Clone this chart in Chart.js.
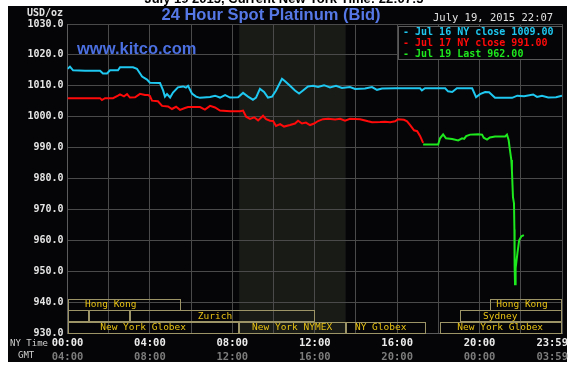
<!DOCTYPE html>
<html>
<head>
<meta charset="utf-8">
<script src="https://cdn.jsdelivr.net/npm/chart.js@4"></script>
<style>
  html, body { margin: 0; padding: 0; background: #fff; }
  canvas { display: block; }
</style>
</head>
<body>
<canvas id="c" width="579" height="367"></canvas>
<script>
// hours in New York time (0 = 00:00), prices in USD/oz
const jul16Hours = [0,0.12,0.27,0.85,1.58,1.72,1.92,2.06,2.45,2.55,3.18,3.37,3.62,3.86,4.0,4.49,4.64,4.73,4.83,4.98,5.12,5.36,5.61,5.75,5.85,6.04,6.24,6.43,6.92,7.16,7.4,7.65,7.89,8.28,8.52,8.76,9.0,9.15,9.34,9.54,9.73,9.93,10.12,10.41,10.56,10.8,11.04,11.24,11.43,11.67,11.92,12.16,12.45,12.74,13.03,13.32,13.71,13.96,14.44,14.78,15.02,15.27,15.9,16.63,17.11,17.2,17.35,18.33,18.47,18.67,18.9,19.64,19.83,20.02,20.27,20.46,20.75,21.58,21.83,22.16,22.6,22.79,23.03,23.33,23.71,24.0];
const jul16Prices = [1015.5,1016.2,1015,1014.9,1014.9,1014.0,1014.0,1015,1015,1016,1016,1015.5,1013,1012,1011,1010.9,1008.5,1006.5,1007.3,1006.2,1007.8,1009.5,1009.8,1009.4,1010,1007.5,1006.5,1006.1,1006.4,1006.8,1006.2,1007,1006.2,1006.3,1007.7,1006.5,1005.5,1006.2,1009,1008,1006.2,1006.5,1008.5,1012.3,1011.5,1010,1008.5,1007.5,1008.5,1009.8,1010,1009.6,1010.2,1009.5,1010,1009.3,1009.6,1009,1009.1,1009.6,1008.7,1009.1,1009.2,1009.2,1009.2,1008.5,1009.2,1009.2,1008.2,1008,1009.2,1009.2,1006.3,1007.3,1008,1007.9,1006.1,1006.1,1006.8,1006.6,1007.2,1006.4,1006.8,1006.2,1006.3,1006.8];

const jul17Hours = [0,1.58,1.67,1.82,2.21,2.45,2.55,2.74,2.89,3.03,3.28,3.52,3.76,3.91,4.0,4.1,4.39,4.59,4.88,5.07,5.27,5.46,5.7,5.85,6.43,6.67,6.92,7.16,7.4,7.89,8.37,8.52,8.67,8.86,9.06,9.25,9.49,9.64,9.83,9.98,10.12,10.32,10.51,10.8,11.04,11.19,11.38,11.57,11.77,11.97,12.16,12.4,12.65,12.99,13.23,13.47,13.71,14.2,14.59,14.78,15.17,15.41,15.66,15.9,16.04,16.33,16.48,16.63,16.82,16.97,17.11,17.26];
const jul17Prices = [1006,1006,1005.4,1006,1006,1006.8,1007.2,1006.6,1007.3,1006.2,1006.3,1007.4,1007,1007,1006.7,1005.2,1005,1003.5,1003.3,1002.5,1003.2,1002.2,1002.8,1003.1,1003.1,1002.3,1003.5,1003,1002,1001.8,1001.8,1002,1000,999.3,999.8,998.8,1000.3,999.2,998.7,998.6,997,997.6,996.8,997.3,997.8,998.7,997.8,998.1,997.3,997.8,998.6,999.2,999.3,999.1,999.3,998.7,999.3,999.2,998.5,998.2,998.3,998.4,998.2,998.5,999.2,999,998.5,997.3,995.6,995.3,993.8,991.5];

const jul19Hours = [17.26,17.99,18.08,18.23,18.37,18.67,18.96,19.15,19.25,19.35,19.54,19.93,20.12,20.2,20.36,20.5,20.75,20.99,21.24,21.33,21.41,21.46,21.54,21.57,21.62,21.67,21.69,21.7,21.72,21.75,21.84,21.92,22.03,22.15];
const jul19Prices = [991,991,993,994.3,993,992.8,992.3,993,992.8,993.7,994.2,994.3,994.2,993.2,992.6,993.3,993.6,993.6,993.6,994.2,992.5,989.8,986,982.5,974,972,963.5,951.7,945.8,951,956,960,961.3,961.7];

const seriesLabels = ['Jul 16 NY close 1009.00', 'Jul 17 NY close 991.00', 'Jul 19 Last 962.00'];

const gridHours = [0,2,4,6,8,10,12,14,16,18,20,22,24];
const labelHours = [0,4,8,12,16,20,24];
const gmtOffset = 4;

// NYMEX floor session, shaded
const nymexStart = 8.33, nymexEnd = 13.5;

// trading session bars (row 0 = top)
const sessionNames = ['Hong Kong','','','Zurich','New York Globex','New York NYMEX','NY Globex','Hong Kong','Sydney','New York Globex'];
const sessionStart = [0,0,1.05,3.03,0,8.33,13.52,20.5,19.05,18.08];
const sessionEnd = [5.5,1.05,3.03,12,8.31,13.5,17.4,24,24,24];
const sessionRow = [0,1,1,1,2,2,2,0,1,2];
const sessionLabelAt = [2.1,0,0,7.16,3.67,10.9,15.2,22.06,21.0,21.0];

const CYAN = '#1ec8f0', RED = '#ff0a0a', GREEN = '#1ee81e';
const GRID = '#4a4a4a';
const MONO = "'DejaVu Sans Mono', monospace";

function hhmm(h) {
  if (h >= 24) h = 23 + 59 / 60;
  const hh = Math.floor(h), mm = Math.round((h - hh) * 60);
  return String(hh).padStart(2, '0') + ':' + String(mm).padStart(2, '0');
}

const frame = {
  id: 'frame',
  beforeDraw(chart) {
    const { ctx, chartArea: a, scales: { x } } = chart;
    ctx.save();
    ctx.fillStyle = '#fff';
    ctx.fillRect(0, 0, chart.width, chart.height);
    ctx.fillStyle = '#050507';
    ctx.fillRect(8, 6, 559, 356);
    ctx.fillStyle = '#191b17';
    const x0 = x.getPixelForValue(nymexStart), x1 = x.getPixelForValue(nymexEnd);
    ctx.fillRect(x0, a.top, x1 - x0, a.bottom - a.top);
    ctx.restore();
  },
  afterDraw(chart) {
    const { ctx, chartArea: a, scales: { x } } = chart;
    ctx.save();

    // cut-off header line
    ctx.fillStyle = '#000';
    ctx.font = 'bold 13px "Liberation Sans", Arial, sans-serif';
    ctx.textAlign = 'center';
    ctx.textBaseline = 'alphabetic';
    ctx.fillText('July 19 2015, Current New York Time: 22:07:5', 284, 3);

    // title
    ctx.fillStyle = '#5578e6';
    ctx.font = 'bold 16.5px "Liberation Sans", Arial, sans-serif';
    ctx.textBaseline = 'middle';
    ctx.fillText('24 Hour Spot Platinum (Bid)', 271, 15);

    ctx.textAlign = 'left';
    ctx.font = 'bold 16.5px "Liberation Sans", Arial, sans-serif';
    ctx.fillStyle = '#4b6fe0';
    ctx.fillText('www.kitco.com', 77, 49);

    ctx.font = '10.5px ' + MONO;
    ctx.fillStyle = '#e2e2e2';
    ctx.fillText('July 19, 2015 22:07', 433, 18);

    ctx.textAlign = 'right';
    ctx.font = 'bold 10px ' + MONO;
    ctx.fillText('USD/oz', 63, 13);

    // legend box
    ctx.fillStyle = '#050507';
    ctx.fillRect(398, 26, 165, 33);
    ctx.strokeStyle = '#5a5a5a';
    ctx.lineWidth = 1;
    ctx.strokeRect(398.5, 26.5, 164, 33);
    ctx.textAlign = 'left';
    ctx.font = 'bold 10px ' + MONO;
    chart.data.datasets.forEach((ds, i) => {
      ctx.fillStyle = ds.borderColor;
      ctx.fillText('- ' + ds.label, 403, 32 + i * 11);
    });

    // session bars
    const rowH = 11.5;
    ctx.font = '9.5px ' + MONO;
    ctx.strokeStyle = '#9c9466';
    sessionNames.forEach((name, i) => {
      const top = a.bottom - (3 - sessionRow[i]) * rowH;
      const l = Math.round(x.getPixelForValue(sessionStart[i])) + 0.5;
      const r = Math.round(x.getPixelForValue(sessionEnd[i])) - 0.5;
      ctx.strokeRect(l, Math.round(top) + 0.5, r - l, Math.round(rowH) - 1);
      if (name) {
        ctx.fillStyle = '#e8c214';
        ctx.textAlign = 'center';
        ctx.fillText(name, x.getPixelForValue(sessionLabelAt[i]), top + rowH / 2 + 0.5);
      }
    });

    // time axis labels, NY time and GMT
    ctx.font = 'bold 10.5px ' + MONO;
    labelHours.forEach(h => {
      const t = hhmm(h);
      const g = hhmm(h >= 24 ? 3 + 59 / 60 : (h + gmtOffset) % 24);
      const w = ctx.measureText(t).width;
      const px = Math.min(x.getPixelForValue(h), 568 - w / 2);
      ctx.textAlign = 'center';
      ctx.fillStyle = '#ececec';
      ctx.fillText(t, px, 343);
      ctx.fillStyle = '#7c7c7c';
      ctx.fillText(g, px, 357);
    });
    ctx.font = '9px ' + MONO;
    ctx.fillStyle = '#d0d0d0';
    ctx.textAlign = 'right';
    ctx.fillText('NY Time', 48, 344);
    ctx.textAlign = 'left';
    ctx.fillText('GMT', 18, 356);

    ctx.restore();
  }
};

const toPoints = (hs, ps) => hs.map((h, i) => ({ x: h, y: ps[i] }));

new Chart(document.getElementById('c').getContext('2d'), {
  type: 'line',
  data: {
    datasets: [
      { label: seriesLabels[0], data: toPoints(jul16Hours, jul16Prices), borderColor: CYAN },
      { label: seriesLabels[1], data: toPoints(jul17Hours, jul17Prices), borderColor: RED },
      { label: seriesLabels[2], data: toPoints(jul19Hours, jul19Prices), borderColor: GREEN },
    ],
  },
  options: {
    responsive: false,
    animation: false,
    devicePixelRatio: 1,
    layout: { padding: { left: 0, right: 17, top: 24, bottom: 0 } },
    elements: {
      line: { borderWidth: 2, tension: 0, borderJoinStyle: 'miter' },
      point: { radius: 0 },
    },
    plugins: { legend: { display: false }, tooltip: { enabled: false } },
    scales: {
      x: {
        type: 'linear',
        min: 0,
        max: 24,
        afterBuildTicks: s => { s.ticks = gridHours.map(v => ({ value: v })); },
        afterFit: s => { s.height = 34; },
        ticks: { display: false },
        grid: { color: GRID, drawTicks: false },
        border: { color: '#5c5c5c' },
      },
      y: {
        min: 930,
        max: 1030,
        afterFit: s => { s.width = 67.5; },
        ticks: {
          stepSize: 10,
          padding: 4,
          color: '#e6e6e6',
          font: { family: MONO, size: 10, weight: 'bold' },
          callback: v => v.toFixed(1),
        },
        grid: { color: GRID, drawTicks: false },
        border: { color: '#5c5c5c' },
      },
    },
  },
  plugins: [frame],
});
</script>
</body>
</html>
